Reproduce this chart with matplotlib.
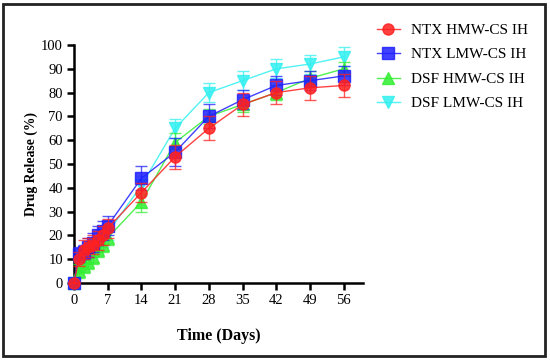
import matplotlib
matplotlib.use("Agg")
import matplotlib.pyplot as plt
from matplotlib.patches import Rectangle

plt.rcParams['font.family'] = ['Liberation Serif', 'DejaVu Serif']

days = [0, 1, 2, 3, 4, 5, 6, 7, 14, 21, 28, 35, 42, 49, 56]

ntx_hmw = [0, 10, 14, 15, 16, 18, 20, 23, 38, 53, 65, 75, 80, 82, 83]
ntx_hmw_err = [0, 3, 4, 4, 4, 4, 4, 4, 4, 5, 5, 5, 5, 5, 5]

ntx_lmw = [0, 12, 13, 15, 17, 20, 22, 24, 44, 55, 70, 77, 83, 85, 87]
ntx_lmw_err = [0, 3, 3, 4, 4, 4, 4, 4, 5, 6, 5, 4, 4, 4, 4]

dsf_hmw = [0, 5, 7, 9, 11, 14, 16, 19, 34, 59, 70, 75, 80, 86, 90]
dsf_hmw_err = [0, 3, 3, 3, 3, 3, 3, 3, 4, 4, 3, 3, 3, 3, 3]

dsf_lmw = [0, 8, 10, 12, 14, 16, 18, 21, 41, 65, 80, 85, 90, 92, 95]
dsf_lmw_err = [0, 3, 3, 3, 3, 3, 3, 3, 4, 4, 4, 4, 4, 4, 4]

labels = ["NTX HMW-CS IH", "NTX LMW-CS IH", "DSF HMW-CS IH", "DSF LMW-CS IH"]
colors = ["#FF2020", "#2020FF", "#33EE33", "#33F0F0"]
markers = ["o", "s", "^", "v"]
xticks = [0, 7, 14, 21, 28, 35, 42, 49, 56]
yticks = list(range(0, 101, 10))

fig = plt.figure(figsize=(5.5, 3.6), dpi=100)
ax = fig.add_axes([0.1345, 0.214, 0.5255, 0.661])

series = [(ntx_hmw, ntx_hmw_err), (ntx_lmw, ntx_lmw_err), (dsf_hmw, dsf_hmw_err), (dsf_lmw, dsf_lmw_err)]
order = [3, 2, 1, 0]
handles = {}
for i in order:
    y, e = series[i]
    c = colors[i]
    ax.errorbar(days, y, yerr=e, fmt='none', ecolor=c, elinewidth=1, capsize=4,
                capthick=1, alpha=0.75, clip_on=False, zorder=2 + (3 - i))
    h, = ax.plot(days, y, color=c, lw=1, marker=markers[i], markersize=8,
                 markerfacecolor=c, markeredgecolor=c, alpha=0.85, clip_on=False,
                 zorder=3 + (3 - i), label=labels[i])
    handles[i] = h

ax.set_xlim(0, 60)
ax.set_ylim(0, 100)
ax.set_xticks(xticks)
ax.set_yticks(yticks)
for s in ['top', 'right']:
    ax.spines[s].set_visible(False)
for s in ['left', 'bottom']:
    ax.spines[s].set_linewidth(1.8)
ax.tick_params(direction='out', length=5, width=1.8, labelsize=10.5, pad=3)
ax.set_xlabel("Time (Days)", fontsize=11.5, fontweight='bold', labelpad=15)
ax.set_ylabel("Drug Release (%)", fontsize=9.8, fontweight='bold', labelpad=2)

leg = fig.legend([handles[i] for i in range(4)], labels, loc='upper left',
                 bbox_to_anchor=(0.685, 0.935), frameon=False, fontsize=11,
                 handlelength=1.5, labelspacing=0.7, handletextpad=0.75,
                 borderpad=0, borderaxespad=0)

fig.patches.append(Rectangle((0.006, 0.01), 0.984, 0.98, transform=fig.transFigure,
                             fill=False, edgecolor='#222222', lw=2))

fig.savefig("out.png", dpi=100)
